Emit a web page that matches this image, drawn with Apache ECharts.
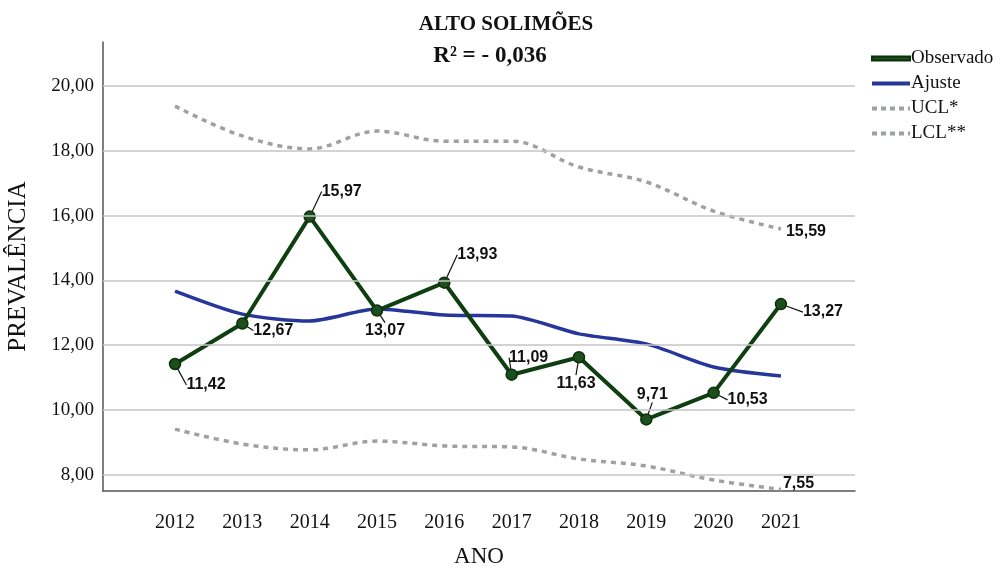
<!DOCTYPE html>
<html>
<head>
<meta charset="utf-8">
<script src="https://cdn.jsdelivr.net/npm/echarts@6/dist/echarts.min.js"></script>
<style>
  html, body { margin: 0; padding: 0; background: #fff; }
  #chart { width: 1004px; height: 571px; }
</style>
</head>
<body>
<div id="chart"></div>
<script>
// Prevalence by year, Alto Solimões
const years = [2012, 2013, 2014, 2015, 2016, 2017, 2018, 2019, 2020, 2021];
const observado = [11.42, 12.67, 15.97, 13.07, 13.93, 11.09, 11.63, 9.71, 10.53, 13.27];
const ajuste = [13.67, 12.96, 12.75, 13.12, 12.93, 12.90, 12.35, 12.04, 11.33, 11.05];
const ucl = [19.38, 18.46, 18.06, 18.61, 18.30, 18.30, 17.50, 17.04, 16.14, 15.59];
const lcl = [9.41, 8.95, 8.77, 9.04, 8.89, 8.86, 8.49, 8.27, 7.84, 7.55];
const yTicks = [8, 10, 12, 14, 16, 18, 20];

// label placement (pixel offsets from each point)
const obsLabelOffsets = [[31, 21], [31, 7], [32, -25], [8, 20], [33, -28], [17, -17], [-3, 26], [6, -25], [34, 7], [42, 8]];

const fmt = v => v.toFixed(2).replace('.', ',');
const pairs = arr => arr.map((v, i) => [years[i], v]);

const serif = '"Liberation Serif", "Times New Roman", serif';
const sans = '"Liberation Sans", Arial, sans-serif';

const valueLabel = {
  show: true,
  position: 'inside',
  color: '#111',
  fontFamily: sans,
  fontWeight: 'bold',
  fontSize: 16,
  formatter: p => fmt(p.value[1])
};

const endLabelStyle = { color: '#111', fontFamily: sans, fontWeight: 'bold', fontSize: 16 };

const chart = echarts.init(document.getElementById('chart'));
chart.setOption({
  animation: false,
  backgroundColor: '#fff',
  title: [
    { text: 'ALTO SOLIMÕES', left: 501, top: 9, textAlign: 'center',
      textStyle: { fontFamily: serif, fontWeight: 'bold', fontSize: 21, color: '#111' } },
    { text: 'R² = - 0,036', left: 485, top: 40, textAlign: 'center',
      textStyle: { fontFamily: serif, fontWeight: 'bold', fontSize: 23, color: '#111' } }
  ],
  legend: {
    orient: 'vertical',
    left: 866,
    top: 44,
    itemWidth: 38,
    itemHeight: 4,
    itemGap: 6,
    textStyle: { fontFamily: serif, fontSize: 19, color: '#111', padding: [0, 0, 0, -4] },
    data: [
      { name: 'Observado', icon: 'rect' },
      { name: 'Ajuste', icon: 'rect' },
      { name: 'UCL*', icon: 'path://M0 0h5v4H0zM9 0h5v4H9zM18 0h5v4h-5zM27 0h5v4h-5zM36 0h2v4h-2z' },
      { name: 'LCL**', icon: 'path://M0 0h5v4H0zM9 0h5v4H9zM18 0h5v4h-5zM27 0h5v4h-5zM36 0h2v4h-2z' }
    ]
  },
  grid: { left: 103, right: 149, top: 42, bottom: 80, containLabel: false, outerBoundsMode: 'none' },
  xAxis: {
    type: 'value',
    min: 2010.93,
    max: 2022.1,
    name: 'ANO',
    nameLocation: 'middle',
    nameGap: 54,
    nameTextStyle: { fontFamily: serif, fontSize: 23, color: '#111' },
    axisLine: { lineStyle: { color: '#555', width: 1.5 } },
    axisTick: { show: false },
    splitLine: { show: false },
    axisLabel: {
      customValues: years,
      formatter: v => String(v),
      margin: 22,
      fontFamily: serif,
      fontSize: 20,
      color: '#111'
    }
  },
  yAxis: {
    type: 'value',
    min: 7.5,
    max: 21.36,
    name: 'PREVALÊNCIA',
    nameLocation: 'middle',
    nameGap: 72,
    nameTextStyle: { fontFamily: serif, fontSize: 25, color: '#111' },
    axisLine: { show: true, lineStyle: { color: '#555', width: 1.5 } },
    axisTick: { show: false },
    splitLine: { show: false },
    axisLabel: {
      customValues: yTicks,
      formatter: v => fmt(v),
      margin: 9,
      fontFamily: serif,
      fontSize: 19,
      color: '#111'
    }
  },
  series: [
    {
      // horizontal reference lines at each labelled tick
      name: 'grid',
      type: 'line',
      data: [],
      z: 1,
      silent: true,
      markLine: {
        silent: true,
        symbol: 'none',
        label: { show: false },
        lineStyle: { color: '#c4c4c4', width: 1.5, type: 'solid' },
        data: yTicks.map(v => ({ yAxis: v }))
      }
    },
    {
      name: 'UCL*',
      type: 'line',
      data: pairs(ucl),
      smooth: 0.35,
      symbol: 'none',
      z: 2,
      color: '#9ea29e',
      lineStyle: { color: '#9ea29e', width: 3.5, type: [5, 5] },
      endLabel: { show: true, ...endLabelStyle, formatter: p => fmt(p.value[1]), distance: 5, offset: [0, 3] }
    },
    {
      name: 'LCL**',
      type: 'line',
      data: pairs(lcl),
      smooth: 0.35,
      symbol: 'none',
      z: 2,
      color: '#9ea29e',
      lineStyle: { color: '#9ea29e', width: 3.5, type: [5, 5] },
      endLabel: { show: true, ...endLabelStyle, formatter: p => fmt(p.value[1]), distance: 2, offset: [0, -6] }
    },
    {
      name: 'Ajuste',
      type: 'line',
      data: pairs(ajuste),
      smooth: 0.25,
      symbol: 'none',
      z: 3,
      color: '#27369a',
      lineStyle: { color: '#27369a', width: 3.5 }
    },
    {
      name: 'Observado',
      type: 'line',
      data: pairs(observado),
      symbol: 'circle',
      symbolSize: 11,
      z: 4,
      color: '#0f3f10',
      itemStyle: { color: '#1d4e1d', borderColor: '#0b300b', borderWidth: 1.5 },
      lineStyle: { color: '#0f3f10', width: 4 },
      label: valueLabel,
      labelLine: { show: true, lineStyle: { color: '#111', width: 1.2 } },
      labelLayout: p => ({ dx: obsLabelOffsets[p.dataIndex][0], dy: obsLabelOffsets[p.dataIndex][1] })
    }
  ]
});
</script>
</body>
</html>
